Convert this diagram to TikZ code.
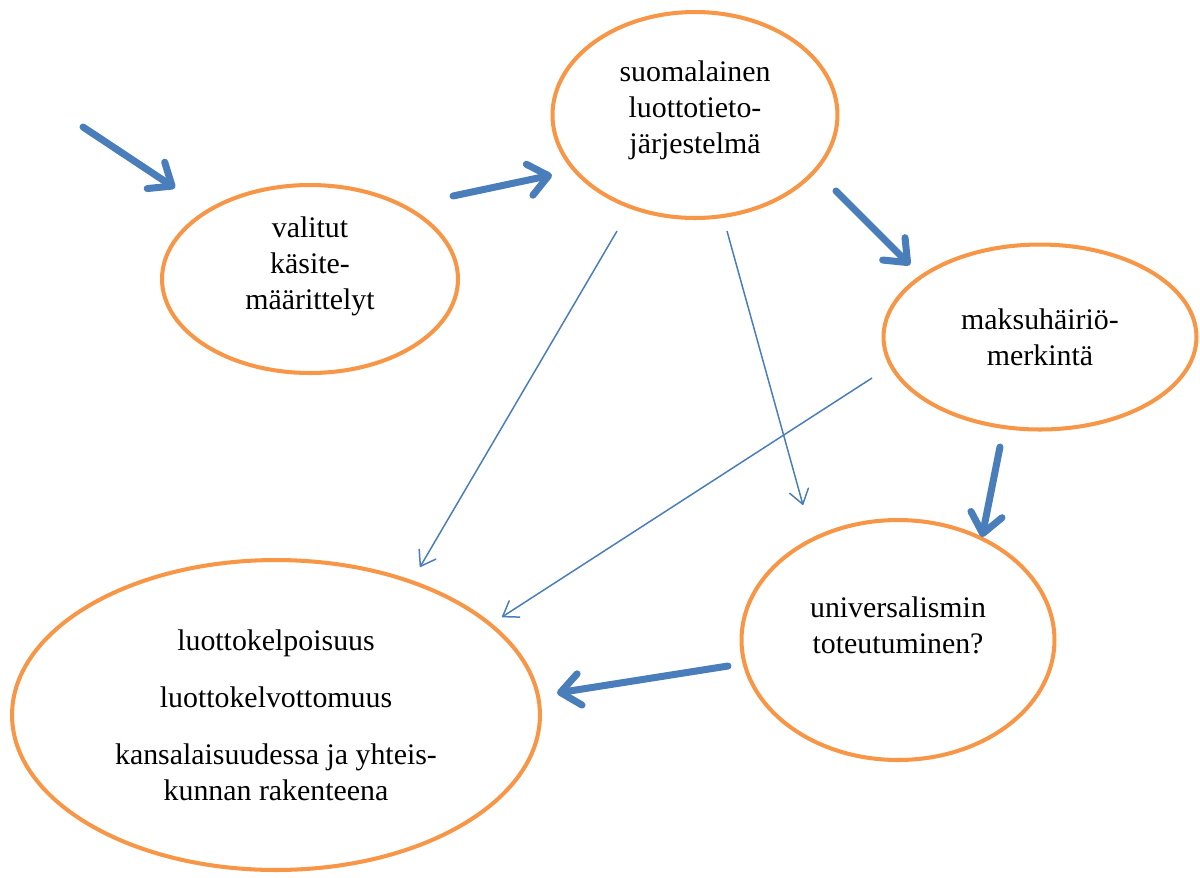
\documentclass[tikz,border=0pt]{standalone}
\usepackage{fontspec}
\setmainfont{Liberation Serif}
\usetikzlibrary{shapes.geometric,arrows.meta}
\definecolor{kehys}{RGB}{247,150,70}
\definecolor{nuoli}{RGB}{74,126,187}
\tikzset{
	kupla/.style={draw=kehys,line width=2.3pt,ellipse,inner sep=0pt,align=center,font=\fontsize{17}{20.5}\selectfont},
	teksti/.style={align=center,font=\fontsize{17}{20.5}\selectfont},
	paksu/.style={draw=nuoli,line width=4pt,line cap=round,-{Straight Barb[round,length=11pt,width=18pt]}},
	ohut/.style={draw=nuoli,line width=0.85pt,-{Straight Barb[round,length=8pt,width=11pt]}}
}
\begin{document}
\begin{tikzpicture}[x=0.02cm,y=-0.02cm]
			\useasboundingbox (0,0) rectangle (1200,877);
			% kuplat
			\node[kupla,minimum width=5.92cm,minimum height=3.76cm,
				label={[teksti,yshift=0.26cm]center:{valitut\\käsite-\\määrittelyt}}] (valitut) at (310,279) {};
			\node[kupla,minimum width=5.7cm,minimum height=4.12cm,
				label={[teksti,yshift=0.09cm]center:{suomalainen\\luottotieto-\\järjestelmä}}] (jarjestelma) at (695,115) {};
			\node[kupla,minimum width=6.26cm,minimum height=3.7cm] (merkinta) at (1040,337)
				{maksuhäiriö-\\merkintä};
			\node[kupla,minimum width=6.26cm,minimum height=4.8cm,
				label={[teksti,yshift=0.3cm]center:{universalismin\\toteutuminen?}}] (universalismi) at (898,640) {};
			\node[kupla,minimum width=10.56cm,minimum height=6.2cm] (kelpoisuus) at (276,715)
				{luottokelpoisuus\\[12pt]luottokelvottomuus\\[12pt]kansalaisuudessa ja yhteis-\\kunnan rakenteena};
			% nuolten päät
			\coordinate (a1) at (83,127);
			\coordinate (a2) at (175,188);
			\coordinate (b1) at (453,196);
			\coordinate (b2) at (552,175);
			\coordinate (c1) at (836,191);
			\coordinate (c2) at (910,265);
			\coordinate (d1) at (1000,447);
			\coordinate (d2) at (982,537);
			\coordinate (e1) at (728,666);
			\coordinate (e2) at (557,693);
			\coordinate (f1) at (617,231);
			\coordinate (f2) at (420,567);
			\coordinate (g1) at (727,231);
			\coordinate (g2) at (803,505);
			\coordinate (h1) at (872,378);
			\coordinate (h2) at (502,617);
			% nuolet
			\draw[paksu] (a1) -- (a2);
			\draw[paksu] (b1) -- (b2);
			\draw[paksu] (c1) -- (c2);
			\draw[paksu] (d1) -- (d2);
			\draw[paksu] (e1) -- (e2);
			\draw[ohut] (f1) -- (f2);
			\draw[ohut] (g1) -- (g2);
			\draw[ohut] (h1) -- (h2);
		\end{tikzpicture}
\end{document}
